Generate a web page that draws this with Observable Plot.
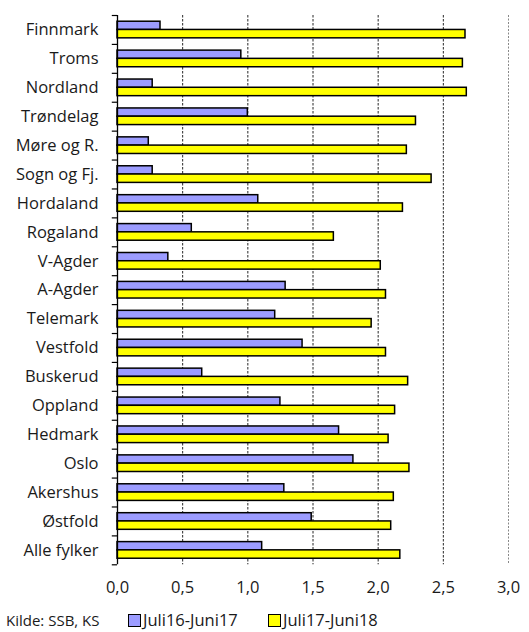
<!DOCTYPE html>
<html>
<head>
<meta charset="utf-8">
<script src="https://cdn.jsdelivr.net/npm/d3@7"></script>
<script src="https://cdn.jsdelivr.net/npm/@observablehq/plot@0.6"></script>
<style>
  html, body { margin: 0; padding: 0; background: #fff; }
  body { width: 529px; height: 632px; overflow: hidden; font-family: "Open Sans", sans-serif; color: #1a1a1a; }
  #chart svg { display: block; }
  .foot { position: relative; height: 27px; font-size: 16.5px; }
  .item { position: absolute; top: 5px; display: flex; align-items: center; line-height: 20px; }
  .sw { width: 13px; height: 13px; border: 1.5px solid #000; margin-right: 2px; box-sizing: border-box; }
  .kilde { position: absolute; left: 6px; top: 6px; font-size: 15px; line-height: 18px; }
</style>
</head>
<body>
<div id="chart"></div>
<div class="foot">
  <div class="item" style="left:128px"><span class="sw" style="background:#9c9cff"></span><span>Juli16-Juni17</span></div>
  <div class="item" style="left:268px"><span class="sw" style="background:#ffff00"></span><span>Juli17-Juni18</span></div>
  <div class="kilde">Kilde: SSB, KS</div>
</div>
<script>
// Counties, top to bottom
const fylker = ["Finnmark", "Troms", "Nordland", "Trøndelag", "Møre og R.", "Sogn og Fj.",
  "Hordaland", "Rogaland", "V-Agder", "A-Agder", "Telemark", "Vestfold", "Buskerud",
  "Oppland", "Hedmark", "Oslo", "Akershus", "Østfold", "Alle fylker"];
const periods = ["Juli16-Juni17", "Juli17-Juni18"];
const juli16 = [0.33, 0.95, 0.27, 1.00, 0.24, 0.27, 1.08, 0.57, 0.39, 1.29, 1.21, 1.42, 0.65, 1.25, 1.70, 1.81, 1.28, 1.49, 1.11];
const juli17 = [2.67, 2.65, 2.68, 2.29, 2.22, 2.41, 2.19, 1.66, 2.02, 2.06, 1.95, 2.06, 2.23, 2.13, 2.08, 2.24, 2.12, 2.10, 2.17];
const xTicks = [0, 0.5, 1.0, 1.5, 2.0, 2.5, 3.0];
const colors = ["#9c9cff", "#ffff00"];

const rows = fylker.flatMap((f, i) => [
  {fylke: f, period: periods[0], value: juli16[i]},
  {fylke: f, period: periods[1], value: juli17[i]}
]);

const W = 529, H = 605, mTop = 15, mBottom = 40.7;
const band = (H - mTop - mBottom) / fylker.length;
const comma = d => d.toFixed(1).replace(".", ",");

const chart = Plot.plot({
  width: W,
  height: H,
  marginLeft: 117,
  marginRight: 21,
  marginTop: mTop,
  marginBottom: mBottom,
  style: {fontFamily: "Open Sans, sans-serif", fontSize: "16.5px", color: "#1a1a1a", background: "#fff"},
  x: {domain: [0, 3]},
  y: {domain: fylker, padding: 0, round: false},
  color: {domain: periods, range: colors},
  marks: [
    Plot.ruleX(xTicks.filter(d => d > 0 && d < 3), {stroke: "#000", strokeOpacity: 0.85, strokeDasharray: "2.5,1.5"}),
    Plot.ruleX([3], {stroke: "#888", strokeDasharray: "2,1.5"}),
    Plot.barX(rows.filter(d => d.period === periods[0]), {
      y: "fylke", x: "value", fill: "period", stroke: "#000", strokeWidth: 1.5,
      insetTop: band * 0.215, insetBottom: band * 0.5
    }),
    Plot.barX(rows.filter(d => d.period === periods[1]), {
      y: "fylke", x: "value", fill: "period", stroke: "#000", strokeWidth: 1.5,
      insetTop: band * 0.5, insetBottom: band * 0.21
    }),
    Plot.ruleX([0], {stroke: "#000", strokeWidth: 1.3}),
    // category boundary ticks on the value axis
    Plot.ruleY(fylker, {y: d => d, x1: -0.04, x2: 0, dy: -band / 2, stroke: "#000", strokeWidth: 1.2}),
    Plot.ruleY([fylker[fylker.length - 1]], {y: d => d, x1: -0.04, x2: 0, dy: band / 2, stroke: "#000", strokeWidth: 1.2}),
    Plot.axisY({tickSize: 0, tickPadding: 19, label: null}),
    Plot.axisX(xTicks, {tickSize: 0, tickPadding: 16, tickFormat: comma, label: null})
  ]
});
document.getElementById("chart").append(chart);
</script>
</body>
</html>
